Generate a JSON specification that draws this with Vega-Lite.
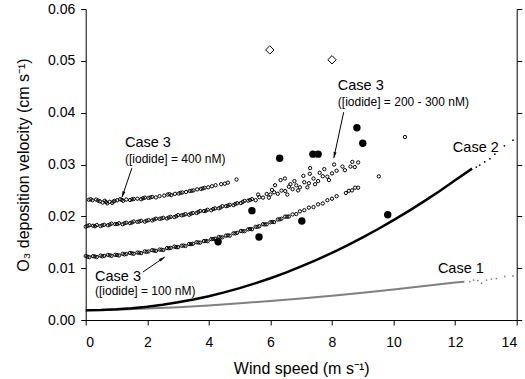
{
  "$schema": "https://vega.github.io/schema/vega-lite/v6.json",
  "width": 431,
  "height": 311,
  "autosize": "none",
  "padding": {"left": 85.7, "top": 9, "right": 8.3, "bottom": 59},
  "background": "white",
  "config": {
    "view": {"stroke": null},
    "font": "Liberation Sans",
    "axis": {
      "domainColor": "#000", "tickColor": "#000", "labelColor": "#000", "titleColor": "#000",
      "labelFont": "Liberation Sans", "titleFont": "Liberation Sans",
      "labelFontSize": 14, "titleFontSize": 16, "titleFontWeight": "normal",
      "grid": false, "tickSize": 5, "domainWidth": 1, "tickWidth": 1
    }
  },
  "datasets": {
    "lines": [
      {"s": "c1", "u": 0, "v": 0.0019}, {"s": "c1", "u": 1, "v": 0.0020}, {"s": "c1", "u": 2, "v": 0.0022},
      {"s": "c1", "u": 3, "v": 0.00248}, {"s": "c1", "u": 4, "v": 0.00282}, {"s": "c1", "u": 5, "v": 0.00321},
      {"s": "c1", "u": 6, "v": 0.00366}, {"s": "c1", "u": 7, "v": 0.00415}, {"s": "c1", "u": 8, "v": 0.00468},
      {"s": "c1", "u": 9, "v": 0.00527}, {"s": "c1", "u": 10, "v": 0.00588}, {"s": "c1", "u": 11, "v": 0.00655},
      {"s": "c1", "u": 12, "v": 0.00723}, {"s": "c1", "u": 12.3, "v": 0.0074},
      {"s": "c2", "u": 0, "v": 0.0019}, {"s": "c2", "u": 0.5, "v": 0.00194}, {"s": "c2", "u": 1, "v": 0.00207},
      {"s": "c2", "u": 1.5, "v": 0.00228}, {"s": "c2", "u": 2, "v": 0.00257}, {"s": "c2", "u": 2.5, "v": 0.00295},
      {"s": "c2", "u": 3, "v": 0.00342}, {"s": "c2", "u": 3.5, "v": 0.00397}, {"s": "c2", "u": 4, "v": 0.0046},
      {"s": "c2", "u": 4.5, "v": 0.00533}, {"s": "c2", "u": 5, "v": 0.00615}, {"s": "c2", "u": 5.5, "v": 0.00706},
      {"s": "c2", "u": 6, "v": 0.00806}, {"s": "c2", "u": 6.5, "v": 0.00915}, {"s": "c2", "u": 7, "v": 0.01034},
      {"s": "c2", "u": 7.5, "v": 0.0116}, {"s": "c2", "u": 8, "v": 0.01296}, {"s": "c2", "u": 8.5, "v": 0.0144},
      {"s": "c2", "u": 9, "v": 0.01594}, {"s": "c2", "u": 9.5, "v": 0.01755}, {"s": "c2", "u": 10, "v": 0.01926},
      {"s": "c2", "u": 10.5, "v": 0.02105}, {"s": "c2", "u": 11, "v": 0.02294}, {"s": "c2", "u": 11.5, "v": 0.0249},
      {"s": "c2", "u": 12, "v": 0.02696}, {"s": "c2", "u": 12.55, "v": 0.0292}
    ],
    "tails": [
      {"s": "c1", "u": 12.48, "v": 0.0074}, {"s": "c1", "u": 12.6, "v": 0.0077}, {"s": "c1", "u": 12.74, "v": 0.0076},
      {"s": "c1", "u": 12.86, "v": 0.0071}, {"s": "c1", "u": 13.02, "v": 0.0077}, {"s": "c1", "u": 13.18, "v": 0.0079},
      {"s": "c1", "u": 13.34, "v": 0.008}, {"s": "c1", "u": 13.61, "v": 0.0084}, {"s": "c1", "u": 13.88, "v": 0.0085},
      {"s": "c2", "u": 12.69, "v": 0.0295}, {"s": "c2", "u": 12.8, "v": 0.0299}, {"s": "c2", "u": 12.96, "v": 0.0305},
      {"s": "c2", "u": 13.13, "v": 0.0311}, {"s": "c2", "u": 13.29, "v": 0.032}, {"s": "c2", "u": 13.6, "v": 0.0336},
      {"s": "c2", "u": 13.88, "v": 0.0347}
    ],
    "bands": [
      {"u": 0.00, "v": 0.01235}, {"u": 0.12, "v": 0.01213}, {"u": 0.24, "v": 0.01231}, {"u": 0.36, "v": 0.01214},
      {"u": 0.48, "v": 0.01243}, {"u": 0.60, "v": 0.01237}, {"u": 0.72, "v": 0.01257}, {"u": 0.84, "v": 0.01237},
      {"u": 0.96, "v": 0.01258}, {"u": 1.08, "v": 0.01244}, {"u": 1.20, "v": 0.01276}, {"u": 1.32, "v": 0.01273},
      {"u": 1.44, "v": 0.01295}, {"u": 1.56, "v": 0.01278}, {"u": 1.68, "v": 0.01301}, {"u": 1.80, "v": 0.01290},
      {"u": 1.92, "v": 0.01324}, {"u": 2.04, "v": 0.01323}, {"u": 2.16, "v": 0.01348}, {"u": 2.28, "v": 0.01334},
      {"u": 2.40, "v": 0.01359}, {"u": 2.52, "v": 0.01351}, {"u": 2.64, "v": 0.01387}, {"u": 2.76, "v": 0.01390},
      {"u": 2.88, "v": 0.01417}, {"u": 3.00, "v": 0.01405}, {"u": 3.12, "v": 0.01433}, {"u": 3.24, "v": 0.01427},
      {"u": 3.36, "v": 0.01467}, {"u": 3.48, "v": 0.01471}, {"u": 3.60, "v": 0.01501}, {"u": 3.72, "v": 0.01492},
      {"u": 3.84, "v": 0.01523}, {"u": 3.96, "v": 0.01519}, {"u": 4.08, "v": 0.01561}, {"u": 4.20, "v": 0.01569},
      {"u": 4.32, "v": 0.01601}, {"u": 4.44, "v": 0.01595}, {"u": 4.56, "v": 0.01628}, {"u": 4.68, "v": 0.01627},
      {"u": 4.80, "v": 0.01672}, {"u": 4.92, "v": 0.01682}, {"u": 5.04, "v": 0.01717}, {"u": 5.16, "v": 0.01713},
      {"u": 5.28, "v": 0.01749}, {"u": 5.40, "v": 0.01750}, {"u": 5.52, "v": 0.01797}, {"u": 5.64, "v": 0.01810},
      {"u": 5.76, "v": 0.01848}, {"u": 5.88, "v": 0.01846}, {"u": 6.00, "v": 0.01885}, {"u": 6.12, "v": 0.01889},
      {"u": 6.24, "v": 0.01939}, {"u": 6.36, "v": 0.01954}, {"u": 6.48, "v": 0.01995}, {"u": 6.60, "v": 0.01995},
      {"u": 6.72, "v": 0.02037}, {"u": 6.84, "v": 0.02044}, {"u": 6.96, "v": 0.02096}, {"u": 7.10, "v": 0.02118},
      {"u": 7.25, "v": 0.02168}, {"u": 7.40, "v": 0.02179}, {"u": 7.55, "v": 0.02231}, {"u": 7.70, "v": 0.02248},
      {"u": 7.85, "v": 0.02311}, {"u": 8.00, "v": 0.02340}, {"u": 8.15, "v": 0.02389}, {"u": 8.45, "v": 0.02450},
      {"u": 8.55, "v": 0.02493}, {"u": 8.65, "v": 0.02500}, {"u": 8.75, "v": 0.02553}, {"u": 8.85, "v": 0.02552},
      {"u": 0.06, "v": 0.01222}, {"u": 0.30, "v": 0.01225}, {"u": 0.54, "v": 0.01228}, {"u": 0.78, "v": 0.01248},
      {"u": 1.02, "v": 0.01252}, {"u": 1.26, "v": 0.01265}, {"u": 1.50, "v": 0.01285}, {"u": 1.74, "v": 0.01297},
      {"u": 1.98, "v": 0.01315}, {"u": 2.22, "v": 0.01340}, {"u": 2.46, "v": 0.01356}, {"u": 2.70, "v": 0.01385},
      {"u": 2.94, "v": 0.01407}, {"u": 3.18, "v": 0.01437}, {"u": 3.42, "v": 0.01462}, {"u": 3.66, "v": 0.01495},
      {"u": 3.90, "v": 0.01525}, {"u": 4.14, "v": 0.01562}, {"u": 4.38, "v": 0.01595}, {"u": 4.62, "v": 0.01633},
      {"u": 4.86, "v": 0.01672}, {"u": 5.10, "v": 0.01713}, {"u": 5.34, "v": 0.01756}, {"u": 5.58, "v": 0.01798},
      {"u": 5.82, "v": 0.01844}, {"u": 6.06, "v": 0.01893}, {"u": 6.30, "v": 0.01942}, {"u": 6.54, "v": 0.01994},

      {"u": 0.00, "v": 0.01800}, {"u": 0.12, "v": 0.01829}, {"u": 0.24, "v": 0.01818}, {"u": 0.36, "v": 0.01832},
      {"u": 0.48, "v": 0.01812}, {"u": 0.60, "v": 0.01837}, {"u": 0.72, "v": 0.01828}, {"u": 0.84, "v": 0.01859},
      {"u": 0.96, "v": 0.01850}, {"u": 1.08, "v": 0.01866}, {"u": 1.20, "v": 0.01848}, {"u": 1.32, "v": 0.01876},
      {"u": 1.44, "v": 0.01868}, {"u": 1.56, "v": 0.01901}, {"u": 1.68, "v": 0.01894}, {"u": 1.80, "v": 0.01913},
      {"u": 1.92, "v": 0.01897}, {"u": 2.04, "v": 0.01926}, {"u": 2.16, "v": 0.01921}, {"u": 2.28, "v": 0.01956},
      {"u": 2.40, "v": 0.01951}, {"u": 2.52, "v": 0.01972}, {"u": 2.64, "v": 0.01958}, {"u": 2.76, "v": 0.01989},
      {"u": 2.88, "v": 0.01986}, {"u": 3.00, "v": 0.02023}, {"u": 3.12, "v": 0.02020}, {"u": 3.24, "v": 0.02043},
      {"u": 3.36, "v": 0.02031}, {"u": 3.48, "v": 0.02065}, {"u": 3.60, "v": 0.02064}, {"u": 3.72, "v": 0.02103},
      {"u": 3.84, "v": 0.02102}, {"u": 3.96, "v": 0.02127}, {"u": 4.08, "v": 0.02117}, {"u": 4.20, "v": 0.02153},
      {"u": 4.32, "v": 0.02154}, {"u": 4.44, "v": 0.02195}, {"u": 4.56, "v": 0.02196}, {"u": 4.68, "v": 0.02223},
      {"u": 4.80, "v": 0.02216}, {"u": 4.92, "v": 0.02253}, {"u": 5.04, "v": 0.02256}, {"u": 5.16, "v": 0.02299},
      {"u": 5.28, "v": 0.02303}, {"u": 5.40, "v": 0.02332}, {"u": 5.52, "v": 0.02311}, {"u": 5.64, "v": 0.02371},
      {"u": 5.76, "v": 0.02361}, {"u": 5.88, "v": 0.02431}, {"u": 6.00, "v": 0.02422}, {"u": 6.12, "v": 0.02463},
      {"u": 6.24, "v": 0.02435}, {"u": 6.36, "v": 0.02496}, {"u": 6.48, "v": 0.02488}, {"u": 6.60, "v": 0.02571},
      {"u": 6.72, "v": 0.02524}, {"u": 6.84, "v": 0.02597}, {"u": 6.96, "v": 0.02560}, {"u": 7.10, "v": 0.02658},
      {"u": 7.25, "v": 0.02638}, {"u": 7.40, "v": 0.02729}, {"u": 7.55, "v": 0.02681}, {"u": 7.70, "v": 0.02773},
      {"u": 7.85, "v": 0.02765}, {"u": 8.00, "v": 0.02828},
      {"u": 0.06, "v": 0.01815}, {"u": 0.30, "v": 0.01808}, {"u": 0.54, "v": 0.01826}, {"u": 0.78, "v": 0.01842},
      {"u": 1.02, "v": 0.01850}, {"u": 1.26, "v": 0.01866}, {"u": 1.50, "v": 0.01882}, {"u": 1.74, "v": 0.01900},
      {"u": 1.98, "v": 0.01915}, {"u": 2.22, "v": 0.01938}, {"u": 2.46, "v": 0.01960}, {"u": 2.70, "v": 0.01978},
      {"u": 2.94, "v": 0.02002}, {"u": 3.18, "v": 0.02027}, {"u": 3.42, "v": 0.02052}, {"u": 3.66, "v": 0.02083},
      {"u": 3.90, "v": 0.02108}, {"u": 4.14, "v": 0.02141}, {"u": 4.38, "v": 0.02170}, {"u": 4.62, "v": 0.02206},
      {"u": 4.86, "v": 0.02240}, {"u": 5.10, "v": 0.02277}, {"u": 5.34, "v": 0.02315},
      {"u": 5.60, "v": 0.02420}, {"u": 5.95, "v": 0.02360}, {"u": 6.05, "v": 0.02510}, {"u": 6.15, "v": 0.02600},
      {"u": 6.33, "v": 0.02700}, {"u": 6.47, "v": 0.02730}, {"u": 6.55, "v": 0.02420}, {"u": 6.65, "v": 0.02620},
      {"u": 6.78, "v": 0.02680}, {"u": 6.90, "v": 0.02500}, {"u": 7.07, "v": 0.02780}, {"u": 7.20, "v": 0.02560},
      {"u": 7.28, "v": 0.02820}, {"u": 7.29, "v": 0.02930}, {"u": 7.45, "v": 0.02620}, {"u": 7.60, "v": 0.02840},
      {"u": 7.75, "v": 0.02910}, {"u": 7.90, "v": 0.02700}, {"u": 8.07, "v": 0.03000}, {"u": 8.15, "v": 0.02880},
      {"u": 8.34, "v": 0.02960}, {"u": 8.42, "v": 0.02890}, {"u": 8.60, "v": 0.02960}, {"u": 8.66, "v": 0.03050},
      {"u": 8.74, "v": 0.02950}, {"u": 8.85, "v": 0.03040}, {"u": 9.52, "v": 0.02770}, {"u": 10.37, "v": 0.03530},

      {"u": 0.10, "v": 0.02320}, {"u": 0.22, "v": 0.02310}, {"u": 0.34, "v": 0.02325}, {"u": 0.46, "v": 0.02290},
      {"u": 0.55, "v": 0.02265}, {"u": 0.62, "v": 0.02300}, {"u": 0.70, "v": 0.02250}, {"u": 0.78, "v": 0.02280},
      {"u": 0.86, "v": 0.02260}, {"u": 0.94, "v": 0.02300}, {"u": 1.02, "v": 0.02310}, {"u": 1.12, "v": 0.02330},
      {"u": 1.22, "v": 0.02300}, {"u": 1.32, "v": 0.02325}, {"u": 1.44, "v": 0.02315}, {"u": 1.56, "v": 0.02335},
      {"u": 1.68, "v": 0.02340}, {"u": 1.80, "v": 0.02330}, {"u": 1.92, "v": 0.02360}, {"u": 2.04, "v": 0.02355},
      {"u": 2.16, "v": 0.02375}, {"u": 2.28, "v": 0.02365}, {"u": 2.40, "v": 0.02390}, {"u": 2.55, "v": 0.02400},
      {"u": 2.66, "v": 0.02420}, {"u": 2.78, "v": 0.02410}, {"u": 2.90, "v": 0.02435}, {"u": 3.02, "v": 0.02440},
      {"u": 3.14, "v": 0.02460}, {"u": 3.26, "v": 0.02470}, {"u": 3.38, "v": 0.02490}, {"u": 3.50, "v": 0.02500},
      {"u": 3.62, "v": 0.02520}, {"u": 3.74, "v": 0.02530}, {"u": 3.86, "v": 0.02550}, {"u": 3.98, "v": 0.02560},
      {"u": 4.10, "v": 0.02580}, {"u": 4.22, "v": 0.02600}, {"u": 4.40, "v": 0.02620}, {"u": 4.52, "v": 0.02630},
      {"u": 4.62, "v": 0.02650}, {"u": 4.90, "v": 0.02710},
      {"u": 0.16, "v": 0.02330}, {"u": 0.40, "v": 0.02305}, {"u": 0.66, "v": 0.02275}, {"u": 0.90, "v": 0.02285},
      {"u": 1.17, "v": 0.02318}, {"u": 1.50, "v": 0.02328}, {"u": 1.86, "v": 0.02348}, {"u": 2.10, "v": 0.02365},
      {"u": 2.72, "v": 0.02428}, {"u": 3.08, "v": 0.02452}, {"u": 3.44, "v": 0.02492}, {"u": 3.80, "v": 0.02538}
    ],
    "meas": [
      {"u": 4.3, "v": 0.0151}, {"u": 5.4, "v": 0.0211}, {"u": 5.63, "v": 0.016}, {"u": 6.3, "v": 0.0312},
      {"u": 7.02, "v": 0.0191}, {"u": 7.38, "v": 0.032}, {"u": 7.55, "v": 0.032}, {"u": 8.81, "v": 0.0371},
      {"u": 9.0, "v": 0.0341}, {"u": 9.81, "v": 0.0203}
    ],
    "diam": [{"u": 5.98, "v": 0.0521}, {"u": 8.0, "v": 0.0502}],
    "arrows": [
      {"u": 1.5, "v": 0.0293, "u2": 1.18, "v2": 0.0237, "ang": 199},
      {"u": 1.86, "v": 0.00926, "u2": 2.57, "v2": 0.01216, "ang": 56},
      {"u": 8.38, "v": 0.0401, "u2": 8.06, "v2": 0.03126, "ang": 192}
    ],
    "labels": [
      {"u": 1.276, "v": 0.03415, "t": "Case 3", "k": "main"},
      {"u": 1.276, "v": 0.03106, "t": "([iodide] = 400 nM)", "k": "sub"},
      {"u": 0.302, "v": 0.0083, "t": "Case 3", "k": "main"},
      {"u": 0.302, "v": 0.0056, "t": "([iodide] = 100 nM)", "k": "sub"},
      {"u": 8.19, "v": 0.04515, "t": "Case 3", "k": "main"},
      {"u": 8.19, "v": 0.04206, "t": "([iodide] = 200 - 300 nM)", "k": "sub"},
      {"u": 11.926, "v": 0.03319, "t": "Case 2", "k": "main"},
      {"u": 11.44, "v": 0.00984, "t": "Case 1", "k": "main"}
    ]
  },
  "resolve": {"scale": {"y": "shared"}, "axis": {"y": "independent"}},
  "layer": [
    {
      "data": {"name": "lines"},
      "transform": [{"filter": "datum.s === 'c1'"}],
      "mark": {"type": "line", "color": "#808080", "strokeWidth": 2},
      "encoding": {
        "x": {"field": "u", "type": "quantitative",
              "scale": {"domain": [0, 14], "nice": false},
              "axis": {"values": [0, 2, 4, 6, 8, 10, 12, 14], "format": "d", "title": "Wind speed (m s⁻¹)",
                       "labelPadding": 10, "titlePadding": 11}},
        "y": {"field": "v", "type": "quantitative",
              "scale": {"domain": [0, 0.06], "nice": false},
              "axis": {"values": [0, 0.01, 0.02, 0.03, 0.04, 0.05, 0.06], "format": ".2f",
                       "title": "O₃ deposition velocity (cm s⁻¹)", "orient": "left",
                       "labelPadding": 6, "titlePadding": 16}}
      }
    },
    {
      "data": {"name": "lines"},
      "transform": [{"filter": "datum.s === 'c2'"}],
      "mark": {"type": "line", "color": "#000", "strokeWidth": 2.5},
      "encoding": {
        "x": {"field": "u", "type": "quantitative", "title": "Wind speed (m s⁻¹)"},
        "y": {"field": "v", "type": "quantitative",
              "axis": {"values": [0, 0.01, 0.02, 0.03, 0.04, 0.05, 0.06], "orient": "right",
                       "labels": false, "title": null, "ticks": true}}
      }
    },
    {
      "data": {"name": "tails"},
      "mark": {"type": "point", "filled": true, "size": 3, "opacity": 1},
      "encoding": {
        "x": {"field": "u", "type": "quantitative", "title": "Wind speed (m s⁻¹)"},
        "y": {"field": "v", "type": "quantitative", "axis": null},
        "color": {"field": "s", "type": "nominal", "scale": {"domain": ["c1", "c2"], "range": ["#808080", "#000"]}, "legend": null}
      }
    },
    {
      "data": {"name": "bands"},
      "mark": {"type": "point", "shape": "circle", "filled": false, "size": 11, "strokeWidth": 1, "color": "#000", "opacity": 1},
      "encoding": {
        "x": {"field": "u", "type": "quantitative", "title": "Wind speed (m s⁻¹)"},
        "y": {"field": "v", "type": "quantitative", "axis": null}
      }
    },
    {
      "data": {"name": "meas"},
      "mark": {"type": "point", "shape": "circle", "filled": true, "size": 55, "color": "#000", "opacity": 1},
      "encoding": {
        "x": {"field": "u", "type": "quantitative", "title": "Wind speed (m s⁻¹)"},
        "y": {"field": "v", "type": "quantitative", "axis": null}
      }
    },
    {
      "data": {"name": "diam"},
      "mark": {"type": "point", "shape": "diamond", "filled": false, "size": 70, "strokeWidth": 1, "color": "#000", "opacity": 1},
      "encoding": {
        "x": {"field": "u", "type": "quantitative", "title": "Wind speed (m s⁻¹)"},
        "y": {"field": "v", "type": "quantitative", "axis": null}
      }
    },
    {
      "data": {"name": "arrows"},
      "mark": {"type": "rule", "color": "#000", "strokeWidth": 1},
      "encoding": {
        "x": {"field": "u", "type": "quantitative", "title": "Wind speed (m s⁻¹)"},
        "y": {"field": "v", "type": "quantitative", "axis": null},
        "x2": {"field": "u2"},
        "y2": {"field": "v2"}
      }
    },
    {
      "data": {"name": "arrows"},
      "mark": {"type": "point", "shape": "M0,0L0.55,2.2L-0.55,2.2Z", "filled": true, "size": 30, "color": "#000", "opacity": 1},
      "encoding": {
        "x": {"field": "u2", "type": "quantitative", "title": "Wind speed (m s⁻¹)"},
        "y": {"field": "v2", "type": "quantitative", "axis": null},
        "angle": {"field": "ang", "type": "quantitative", "scale": null}
      }
    },
    {
      "data": {"name": "labels"},
      "transform": [{"filter": "datum.k === 'main'"}],
      "mark": {"type": "text", "align": "left", "baseline": "middle", "fontSize": 14.5, "font": "Liberation Sans", "color": "#000"},
      "encoding": {
        "x": {"field": "u", "type": "quantitative", "title": "Wind speed (m s⁻¹)"},
        "y": {"field": "v", "type": "quantitative", "axis": null},
        "text": {"field": "t"}
      }
    },
    {
      "data": {"name": "labels"},
      "transform": [{"filter": "datum.k === 'sub'"}],
      "mark": {"type": "text", "align": "left", "baseline": "middle", "fontSize": 12, "font": "Liberation Sans", "color": "#000"},
      "encoding": {
        "x": {"field": "u", "type": "quantitative", "title": "Wind speed (m s⁻¹)"},
        "y": {"field": "v", "type": "quantitative", "axis": null},
        "text": {"field": "t"}
      }
    }
  ]
}
